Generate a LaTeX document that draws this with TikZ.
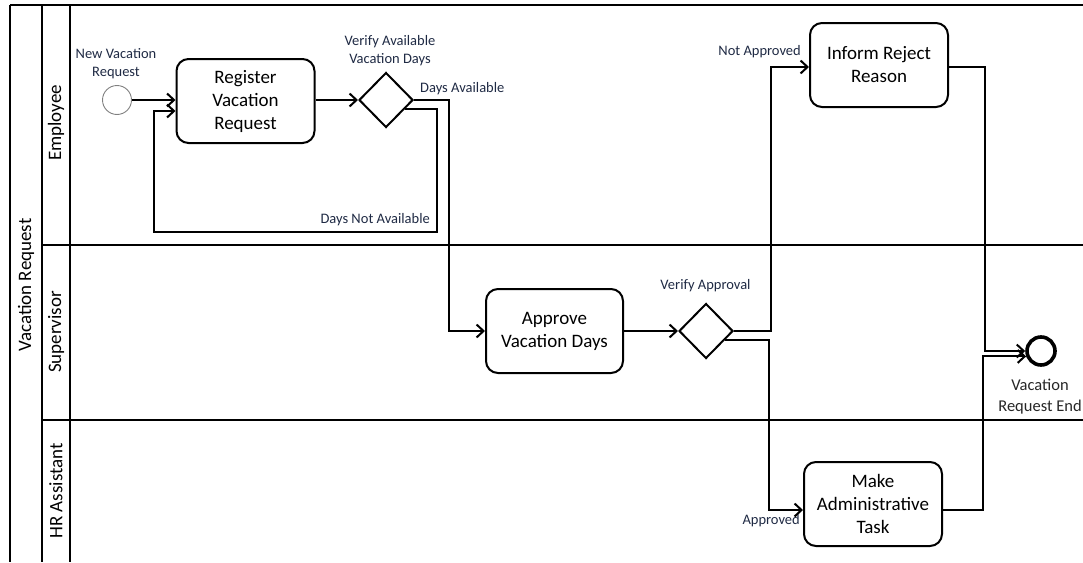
\documentclass[tikz,border=0pt]{standalone}
\usepackage{fontspec}
\setmainfont{Carlito}
\usetikzlibrary{arrows.meta,shapes.geometric}
\definecolor{labelblue}{RGB}{31,42,68}
\newcommand{\tasksize}{\fontsize{19}{23}\selectfont}
\newcommand{\labelsize}{\fontsize{14.5}{18}\selectfont}
\newcommand{\finishsize}{\fontsize{16.5}{21}\selectfont}

\begin{document}
\begin{tikzpicture}[x=1pt,y=-1pt,
  frame/.style={line width=2.6pt},
  task/.style={draw,line width=2pt,rounded corners=12pt,minimum width=138pt,
    minimum height=84pt,align=center,font=\tasksize,inner sep=2pt},
  gate/.style={draw,diamond,line width=2pt,minimum width=54pt,minimum height=55pt,inner sep=0pt},
  flow/.style={line width=2pt,-{Straight Barb[length=7pt,width=13pt]}},
  lbl/.style={font=\labelsize,text=labelblue,align=center,inner sep=0pt},
  lanelbl/.style={rotate=90,font=\tasksize,inner sep=0pt}]
\useasboundingbox (0,0) rectangle (1083,562);
% pool and lanes
\draw[frame] (10,5) -- (1083,5);
\draw[frame] (10,5) -- (10,562);
\draw[frame] (42,5) -- (42,562);
\draw[line width=2.2pt] (70,5) -- (70,562);
\draw[frame] (42,245) -- (1083,245);
\draw[frame] (42,420) -- (1083,420);
\node[lanelbl] (pool) at (26,285) {Vacation Request};
\node[lanelbl] (emp) at (56,123) {Employee};
\node[lanelbl] (sup) at (56,332) {Supervisor};
\node[lanelbl] (hr) at (56,491) {HR Assistant};
% employee lane
\node[circle,draw=gray,line width=0.9pt,minimum size=29pt,inner sep=0pt] (start) at (117,100) {};
\node[lbl] (startlbl) at (116,64) {New Vacation\\Request};
\node[task] (reg) at (245.5,101) {Register\\Vacation\\Request};
\node[gate] (gw1) at (386,100) {};
\node[lbl] (gw1lbl) at (390,51) {Verify Available\\Vacation Days};
\node[lbl,anchor=west] (availlbl) at (420,89) {Days Available};
\node[lbl,anchor=east] (notavaillbl) at (430,220) {Days Not Available};
\coordinate (backR) at (437,232);
\coordinate (backL) at (154,232);
\node[task] (inform) at (879,65) {Inform Reject\\Reason};
\node[lbl,anchor=east] (notapprlbl) at (801,52) {Not Approved};
% supervisor lane
\node[task,minimum width=137pt] (appr) at (554.5,331) {Approve\\Vacation Days};
\node[gate] (gw2) at (706,331) {};
\node[lbl] (gw2lbl) at (705.5,286) {Verify Approval};
\node[circle,draw,line width=3.6pt,minimum size=28pt,inner sep=0pt] (finish) at (1041,351) {};
\node[font=\finishsize,align=center,inner sep=0pt,text=black!85] (finishlbl) at (1040,397) {Vacation\\Request End};
% hr lane
\node[task] (admin) at (873,504) {Make\\Administrative\\Task};
\node[lbl,anchor=east] (apprlbl) at (800,521) {Approved};
% flows
\draw[flow] (start) -- (start -| reg.west);
\draw[flow] (reg.east |- gw1) -- (gw1);
\draw[flow] (gw1.east) -| ([xshift=-36pt]appr.west) -- (appr.west);
\draw[flow] (gw1.-25) -| (backR) -- (backL) |- ([yshift=-10pt]reg.west);
\draw[flow] (appr) -- (gw2);
\draw[flow] (gw2.east) -| ([xshift=-38pt,yshift=-2pt]inform.west) -- ([yshift=-2pt]inform.west);
\draw[flow] (gw2.-25) -| ([xshift=-34pt,yshift=-6pt]admin.west) -- ([yshift=-6pt]admin.west);
\draw[flow] ([yshift=-2pt]inform.east) -| ([xshift=-40pt]finish.west) -- (finish.west);
\draw[flow] ([yshift=-6pt]admin.east) -| ([xshift=-43pt]finish.200) -- (finish.200);
\end{tikzpicture}
\end{document}
